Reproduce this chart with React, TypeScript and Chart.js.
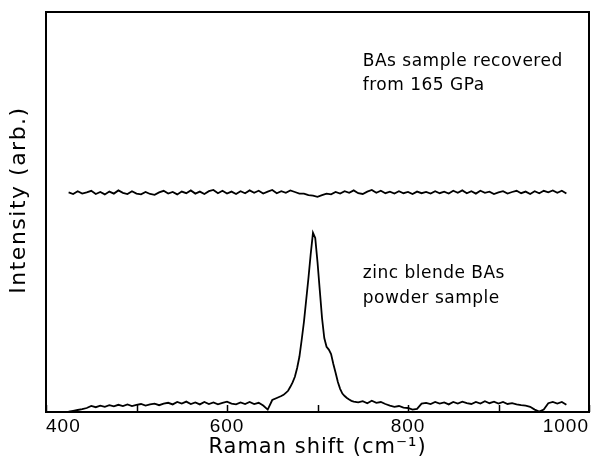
import React, { useEffect, useRef } from "react";
import { Chart, registerables } from "chart.js";

Chart.register(...registerables);

// Raman shift grid (cm^-1) of the recovered-sample trace
const recoveredShift = [
  425, 430, 435, 440, 445, 450, 455, 460, 465, 470,
  475, 480, 485, 490, 495, 500, 505, 510, 515, 520,
  525, 530, 535, 540, 545, 550, 555, 560, 565, 570,
  575, 580, 585, 590, 595, 600, 605, 610, 615, 620,
  625, 630, 635, 640, 645, 650, 655, 660, 665, 670,
  675, 680, 685, 690, 695, 700, 705, 710, 715, 720,
  725, 730, 735, 740, 745, 750, 755, 760, 765, 770,
  775, 780, 785, 790, 795, 800, 805, 810, 815, 820,
  825, 830, 835, 840, 845, 850, 855, 860, 865, 870,
  875, 880, 885, 890, 895, 900, 905, 910, 915, 920,
  925, 930, 935, 940, 945, 950, 955, 960, 965, 970,
  975,
];

// BAs sample recovered from 165 GPa (offset trace)
const recoveredIntensity = [
  54.9, 54.5, 55.2, 54.6, 54.9, 55.3, 54.5, 55.0, 54.4, 55.1,
  54.6, 55.4, 54.8, 54.5, 55.2, 54.6, 54.4, 55.0, 54.5, 54.3,
  54.9, 55.3, 54.6, 55.0, 54.4, 55.1, 54.7, 55.4, 54.6, 55.1,
  54.5, 55.2, 55.5, 54.7, 55.3, 54.6, 55.1, 54.5, 55.2, 54.7,
  55.4, 54.8, 55.3, 54.6, 55.1, 55.5, 54.7, 55.2, 54.8, 55.4,
  55.0, 54.6, 54.6, 54.2, 54.1, 53.8, 54.2, 54.6, 54.4, 55.0,
  54.6, 55.2, 54.8, 55.4, 54.7, 54.5, 55.1, 55.5, 54.8, 55.3,
  54.7, 55.1, 54.6, 55.2, 54.7, 55.0, 54.5, 55.1, 54.7, 55.0,
  54.6, 55.2, 54.7, 55.1, 54.6, 55.3, 54.8, 55.4, 54.7, 55.2,
  54.6, 55.3, 54.8, 55.1, 54.5, 54.9, 55.2, 54.6, 55.0, 55.3,
  54.7, 55.1, 54.5, 55.2, 54.7, 55.3, 54.9, 55.4, 54.8, 55.3,
  54.6,
];

// Raman shift grid (cm^-1) of the powder trace, finer across the peak
const powderShift = [
  425, 430, 435, 440, 445, 450, 455, 460, 465, 470,
  475, 480, 485, 490, 495, 500, 505, 510, 515, 520,
  525, 530, 535, 540, 545, 550, 555, 560, 565, 570,
  575, 580, 585, 590, 595, 600, 605, 610, 615, 620,
  625, 630, 635, 640, 645, 650, 655,
  660, 662.5, 665, 667.5, 670, 672.5, 675, 677.5, 680, 682.5,
  685, 687.5, 690, 692.5, 695, 697.5, 700, 702.5, 705, 707.5,
  710, 712.5, 715, 717.5, 720, 722.5, 725, 727.5, 730, 732.5,
  735, 737.5, 740,
  745, 750, 755, 760, 765, 770,
  775, 780, 785, 790, 795, 800, 805, 810, 815, 820,
  825, 830, 835, 840, 845, 850, 855, 860, 865, 870,
  875, 880, 885, 890, 895, 900, 905, 910, 915, 920,
  925, 930, 935, 940, 945, 950, 955, 960, 965, 970,
  975,
];

// zinc blende BAs powder sample
const powderIntensity = [
  0.1, 0.3, 0.5, 0.7, 1.0, 1.5, 1.2, 1.6, 1.3, 1.7,
  1.4, 1.8, 1.5, 1.9, 1.5, 1.8, 2.0, 1.6, 1.9, 2.1,
  1.7, 2.1, 2.3, 1.9, 2.5, 2.1, 2.6, 2.0, 2.4, 1.9,
  2.5, 2.0, 2.4, 1.9, 2.3, 2.6, 2.1, 1.9, 2.4, 2.0,
  2.5, 2.0, 2.3, 1.6, 0.6, 3.0, 3.5,
  4.0, 4.3, 4.8, 5.3, 6.3, 7.4, 8.8, 11.0, 13.8, 18.0,
  22.5, 28.0, 33.5, 39.5, 44.8, 43.5, 37.5, 30.5, 23.5, 18.5,
  16.3, 15.6, 14.5, 12.0, 9.8, 7.5, 5.8, 4.6, 4.0, 3.5,
  3.1, 2.8, 2.6,
  2.4, 2.7, 2.2, 2.8, 2.3, 2.5,
  2.0, 1.6, 1.3, 1.5, 1.1, 1.0, 0.6, 0.8, 2.1, 2.3,
  2.0, 2.5, 2.1, 2.4, 1.9, 2.5, 2.1, 2.6, 2.2, 2.0,
  2.5, 2.1, 2.7, 2.2, 2.6, 2.1, 2.5, 2.0, 2.2, 1.9,
  1.7, 1.6, 1.3, 0.6, 0.1, 0.6, 2.2, 2.5, 2.1, 2.5,
  1.8,
];

const labeledTicks = [400, 600, 800, 1000];
const yTitle = "Intensity (arb.)";
const xTitle = "Raman shift (cm\u207B\u00B9)";
const recoveredLabel = ["BAs sample recovered", "from 165 GPa"];
const powderLabel = ["zinc blende BAs", "powder sample"];

const FONT = '"DejaVu Sans", sans-serif';
const TICK_FONT = '"Liberation Sans", Arial, sans-serif';

const framePlugin = {
  id: "frameAndNotes",
  beforeDraw(chart: any) {
    (chart.ctx as any).letterSpacing = "1px";
  },
  afterDatasetsDraw(chart: any) {
    const { ctx, chartArea: a, scales } = chart;
    const xs = scales.x;
    const ys = scales.y;
    ctx.save();
    ctx.strokeStyle = "#000";
    ctx.lineWidth = 2;
    ctx.strokeRect(a.left, a.top, a.right - a.left, a.bottom - a.top);
    ctx.lineWidth = 1.5;
    xs.ticks.forEach((t: any) => {
      const px = Math.round(xs.getPixelForValue(t.value)) + 0.5;
      ctx.beginPath();
      ctx.moveTo(px, a.bottom);
      ctx.lineTo(px, a.bottom - 7);
      ctx.stroke();
    });
    ctx.fillStyle = "#000";
    ctx.font = `17px ${FONT}`;
    (ctx as any).letterSpacing = "0.5px";
    ctx.textBaseline = "alphabetic";
    ctx.textAlign = "left";
    const notes = [
      { lines: recoveredLabel, x: 750, y: [86.6, 80.6] },
      { lines: powderLabel, x: 750, y: [33.4, 27.2] },
    ];
    notes.forEach((n) =>
      n.lines.forEach((line, i) =>
        ctx.fillText(line, xs.getPixelForValue(n.x), ys.getPixelForValue(n.y[i]))
      )
    );
    // y-axis title
    ctx.font = `22px ${FONT}`;
    (ctx as any).letterSpacing = "1.5px";
    ctx.textAlign = "center";
    ctx.textBaseline = "middle";
    ctx.translate(19, ys.getPixelForValue(53));
    ctx.rotate(-Math.PI / 2);
    ctx.fillText(yTitle, 0, 0);
    ctx.restore();
  },
};

export default function App() {
  const ref = useRef<HTMLCanvasElement>(null);
  useEffect(() => {
    if (!ref.current) return;
    const toPoints = (xs: number[], ys: number[]) => xs.map((x, i) => ({ x, y: ys[i] }));
    const chart = new Chart(ref.current, {
      type: "line",
      data: {
        datasets: [
          {
            data: toPoints(recoveredShift, recoveredIntensity),
            borderColor: "#000",
            borderWidth: 1.8,
            pointRadius: 0,
            tension: 0,
            fill: false,
          },
          {
            data: toPoints(powderShift, powderIntensity),
            borderColor: "#000",
            borderWidth: 1.8,
            pointRadius: 0,
            tension: 0,
            fill: false,
          },
        ],
      },
      options: {
        responsive: false,
        animation: false,
        devicePixelRatio: 1,
        layout: { padding: { top: 12, right: 5, left: 0, bottom: 0 } },
        plugins: {
          legend: { display: false },
          tooltip: { enabled: false },
        },
        scales: {
          x: {
            type: "linear",
            min: 400,
            max: 1000,
            grid: { display: false, drawTicks: false },
            border: { display: false },
            ticks: {
              stepSize: 100,
              autoSkip: false,
              maxRotation: 0,
              align: "inner",
              padding: 3,
              color: "#000",
              font: { family: TICK_FONT, size: 19 },
              callback: (v: any) => (labeledTicks.includes(Number(v)) ? String(v) : ""),
            },
            title: {
              display: true,
              text: xTitle,
              color: "#000",
              font: { family: FONT, size: 21 },
              padding: { top: 0, bottom: 0 },
            },
            afterFit: (s: any) => {
              s.height = 48;
            },
          },
          y: {
            type: "linear",
            min: 0,
            max: 100,
            grid: { display: false, drawTicks: false },
            border: { display: false },
            ticks: { display: false },
            title: { display: false },
            afterFit: (s: any) => {
              s.width = 46;
            },
          },
        },
      },
      plugins: [framePlugin],
    } as any);
    return () => chart.destroy();
  }, []);
  return (
    <div style={{ position: "absolute", left: 0, top: 0, width: 594, height: 460, background: "#fff" }}>
      <canvas ref={ref} width={594} height={460} style={{ display: "block" }} />
    </div>
  );
}
